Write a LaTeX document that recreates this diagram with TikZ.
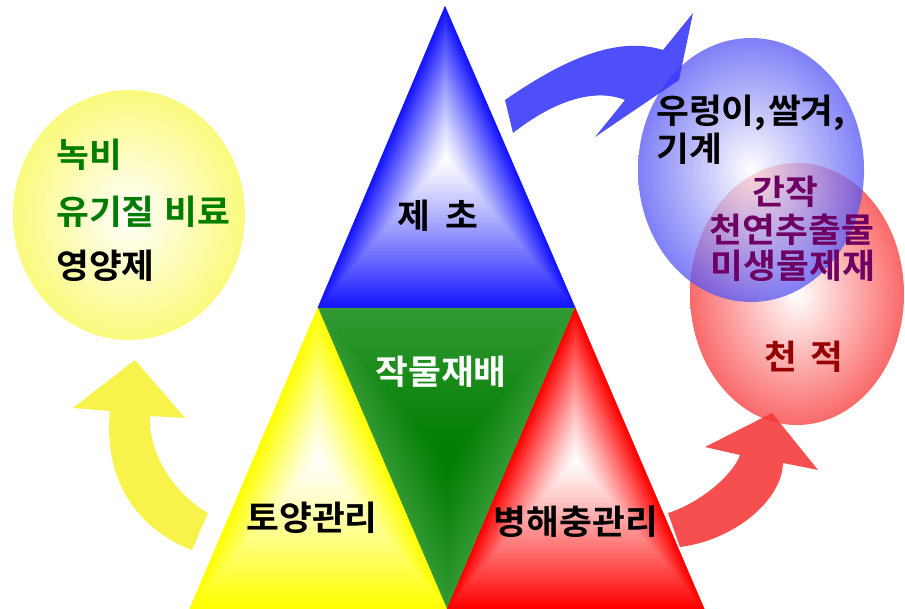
\documentclass[tikz,border=0pt]{standalone}
\usepackage{fontspec}
\setmainfont{Noto Sans CJK KR}[BoldFont={Noto Sans CJK KR Bold}, BoldFeatures={FakeStretch=1.05}]
\usetikzlibrary{calc}
\definecolor{triB}{RGB}{20,20,255}
\definecolor{triY}{RGB}{255,255,0}
\definecolor{triR}{RGB}{255,0,0}
\definecolor{triGe}{RGB}{51,153,51}
\definecolor{triGc}{RGB}{0,125,0}
\definecolor{ellY}{RGB}{250,250,125}
\definecolor{ellB}{RGB}{85,85,245}
\definecolor{ellR}{RGB}{250,105,105}
\definecolor{arrY}{RGB}{248,242,50}
\definecolor{arrB}{RGB}{55,55,250}
\definecolor{arrR}{RGB}{245,55,55}
\definecolor{txtG}{RGB}{0,125,0}
\definecolor{txtP}{RGB}{110,0,100}
\definecolor{txtR}{RGB}{150,0,0}
\newcommand\pgtri[6]{%
  \foreach \i in {0,...,47}{%
    \pgfmathsetmacro\myt{1-\i/48}%
    \pgfmathsetmacro\myp{100*(\myt)^1.2}%
    \fill[#5!\myp!#6] ($(#4)!\myt!(#1)$) -- ($(#4)!\myt!(#2)$) -- ($(#4)!\myt!(#3)$) -- cycle;
  }}
\begin{document}
\begin{tikzpicture}[x=1pt,y=-1pt,
  lbl/.style={font=\fontsize{34}{36}\selectfont\bfseries, inner sep=0pt},
  arrowshape/.style={draw=none, fill opacity=0.88}]
\useasboundingbox (0,0) rectangle (905,609);
\fill[white] (0,0) rectangle (905,609);
% triangle corners
\coordinate (Btop) at (445,7);
\coordinate (ML) at (318,308);
\coordinate (MR) at (575,308);
\coordinate (BL) at (190,609);
\coordinate (BM) at (447,609);
\coordinate (BR) at (704,609);
\coordinate (cB) at (446,158);
\coordinate (cG) at (447,459);
\coordinate (cY) at (318.5,459);
\coordinate (cR) at (575.5,459);
% seams
\fill[triGe] (ML) -- (MR) -- (BM) -- cycle;
\draw[triB, line width=1pt] (Btop) -- (ML) -- (MR) -- cycle;
\draw[triY, line width=1pt] (ML) -- (BL) -- (BM) -- cycle;
\draw[triR, line width=1pt] (MR) -- (BM) -- (BR) -- cycle;
\pgtri{Btop}{ML}{MR}{cB}{triB}{white}
\pgtri{ML}{MR}{BM}{cG}{triGe}{triGc}
\pgtri{ML}{BL}{BM}{cY}{triY}{white}
\pgtri{MR}{BM}{BR}{cR}{triR}{white}
% ellipses
\shade[inner color=white, outer color=ellY] (129,215) ellipse [x radius=116, y radius=125];
\shade[inner color=white, outer color=ellR] (797,294) ellipse [x radius=107, y radius=131];
\begin{scope}[opacity=0.75]
\shade[inner color=white, outer color=ellB] (751,170) ellipse [x radius=113, y radius=132];
\end{scope}
% arrows
\fill[arrY, arrowshape] (208,513) .. controls (176,495) and (148,455) .. (150,416)
  -- (185,418) -- (135,360) -- (73,408) -- (110,411)
  .. controls (104,470) and (128,525) .. (192,550) -- cycle;
\fill[arrB, arrowshape] (505,100) .. controls (560,62) and (615,35) .. (663,50)
  -- (693,13) -- (679,80) -- (595,137) -- (625,100)
  .. controls (595,88) and (555,100) .. (513,133) -- cycle;
\fill[arrR, arrowshape] (668,513) .. controls (700,503) and (733,475) .. (740,455)
  -- (705,447) -- (772,413) -- (818,470) -- (783,463)
  .. controls (782,500) and (735,540) .. (680,547) -- cycle;
% texts
\node[lbl, anchor=west, text=txtG] (t1) at (56,155) {녹비};
\node[lbl, anchor=west, text=txtG] (t2) at (56,212) {유기질\hspace{0.3em}비료};
\node[lbl, anchor=west, text=black] (t3) at (56,266) {영양제};
\node[lbl, text=black] (weed) at (438,216) {제\hspace{0.45em}초};
\node[lbl, text=white] (crop) at (441,372) {작물재배};
\node[lbl, text=black] (soil) at (312,518) {토양관리};
\node[lbl, text=black] (pest) at (576,522) {병해충관리};
\node[lbl, anchor=west, text=black] (r1) at (656,113) {우렁이,\hspace{0.05em}쌀겨,};
\node[lbl, anchor=west, text=black] (r2) at (656,149) {기계};
\node[lbl, text=txtP] (m1) at (785,192) {간작};
\node[lbl, text=txtP] (m2) at (792,230) {천연추출물};
\node[lbl, text=txtP] (m3) at (793,266) {미생물제재};
\node[lbl, text=txtR] (enemy) at (804,357) {천\hspace{0.4em}적};
\end{tikzpicture}
\end{document}
